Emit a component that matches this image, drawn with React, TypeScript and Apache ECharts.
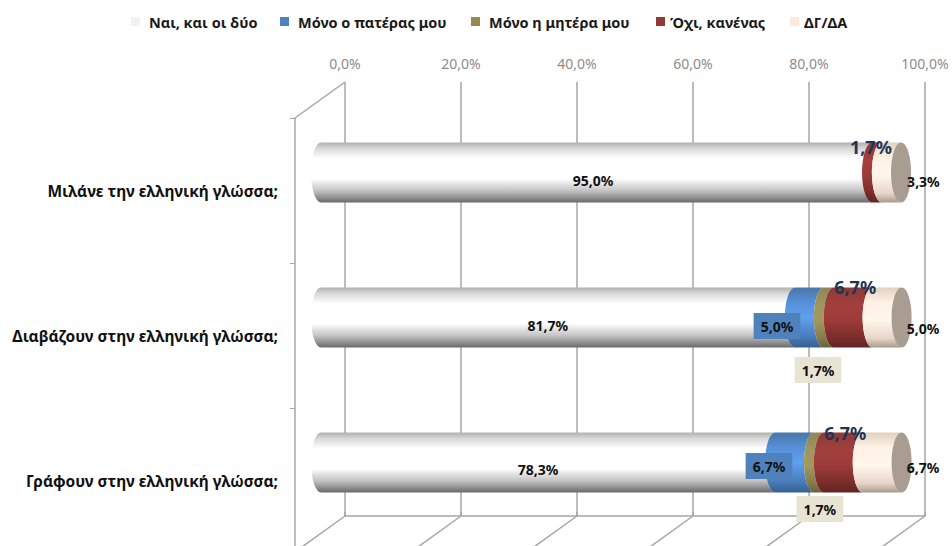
import React, { useEffect, useRef } from "react";
import * as echarts from "echarts";

const categories = ["Μιλάνε την ελληνική γλώσσα;", "Διαβάζουν στην ελληνική γλώσσα;", "Γράφουν στην ελληνική γλώσσα;"];
const seriesNames = ["Ναι, και οι δύο", "Μόνο ο πατέρας μου", "Μόνο η μητέρα μου", "Όχι, κανένας", "ΔΓ/ΔΑ"];
const yesBoth = [95.0, 81.7, 78.3];
const fatherOnly = [0, 5.0, 6.7];
const motherOnly = [0, 1.7, 1.7];
const neither = [1.7, 6.7, 6.7];
const noAnswer = [3.3, 5.0, 6.7];
const axisTicks = [0, 20, 40, 60, 80, 100];

const allValues = [yesBoth, fatherOnly, motherOnly, neither, noAnswer];

// styling and layout, separate from the data
const FONT = "'Noto Sans', sans-serif";
const legendLefts = [131, 280, 471, 656, 790];
const legendTextGap = [4, 4, 4, 0, 0];
const swatch = ["#f2f2f2", "#4f81bd", "#948a54", "#953735", "#fde9d9"];
const gradients = [
  [[0, "#b0b0b0"], [0.1, "#d8d8d8"], [0.27, "#ffffff"], [0.6, "#ffffff"], [0.8, "#c4c4c4"], [1, "#6a6a6a"]],
  [[0, "#4a76a8"], [0.25, "#5590d8"], [0.5, "#5fa0ee"], [0.8, "#4a7fc0"], [1, "#37608f"]],
  [[0, "#8f8655"], [0.3, "#a09660"], [0.55, "#a39860"], [0.85, "#857b4a"], [1, "#68603a"]],
  [[0, "#8c3a38"], [0.3, "#a3403d"], [0.55, "#9c3b38"], [0.85, "#7a2c2a"], [1, "#5f2422"]],
  [[0, "#e0d0c2"], [0.25, "#fff1e3"], [0.55, "#fff6ec"], [0.85, "#e6d5c6"], [1, "#a89a8e"]],
];
// hand-placed labels in the reference: shift from the segment's centre, per series and row
const labelShift = [
  [[-3.5, 7.5], [-10, 7.5], [-10, 6.5]],
  [[0, 0], [-32.4, 8.5], [-25.6, 3.5]],
  [[0, 0], [-10.8, 52.5], [1, 46.5]],
  [[-6, -25.5], [2, -30.5], [2, -29.5]],
  [[32, 8.5], [36, 10.5], [41, 4.5]],
];
const labelBox = [null, "#4f81bd", "#e8e4d4", null, null];
const BAR_DX = 26;
const BAR_DY = -18;
const RX = 10;
const RY = 30;
const WALL = "#a6a6a6";

const fmt = (v: number) => v.toFixed(1).replace(".", ",") + "%";

function segmentData(si: number) {
  return allValues[si].map((v, row) => {
    let start = 0;
    for (let k = 0; k < si; k++) start += allValues[k][row];
    return [start, start + v, row];
  });
}

function makeRender(si: number) {
  return (params: any, api: any) => {
    const start = api.value(0);
    const end = api.value(1);
    const row = api.value(2);
    if (end - start <= 0) return { type: "group", children: [] };
    const a = api.coord([start, row]);
    const b = api.coord([end, row]);
    const x0 = a[0] + BAR_DX;
    const x1 = b[0] + BAR_DX;
    const cy = a[1] + BAR_DY;
    const top = cy - RY;
    const bot = cy + RY;
    const d = `M${x0} ${top}A${RX} ${RY} 0 0 0 ${x0} ${bot}L${x1} ${bot}A${RX} ${RY} 0 0 1 ${x1} ${top}Z`;
    const children: any[] = [
      {
        type: "path",
        shape: { pathData: d },
        style: {
          fill: new echarts.graphic.LinearGradient(
            0, 0, 0, 1,
            gradients[si].map(([offset, color]) => ({ offset: offset as number, color: color as string }))
          ),
        },
      },
    ];
    if (si === allValues.length - 1) {
      children.push({
        type: "ellipse",
        shape: { cx: x1, cy, rx: RX, ry: RY },
        style: { fill: "#a99c90" },
        z2: 5,
      });
    }
    const big = si === 3;
    const box = labelBox[si];
    const shift = labelShift[si][row];
    children.push({
      type: "text",
      x: (x0 + x1) / 2 + shift[0],
      y: cy + shift[1],
      z2: 100,
      style: {
        text: fmt(end - start),
        fill: big ? "#1f3557" : "#111111",
        font: big ? `bold 18px ${FONT}` : `bold 14px ${FONT}`,
        align: "center",
        verticalAlign: "middle",
        backgroundColor: box || undefined,
        padding: box ? [6, 7] : 0,
      },
    });
    return { type: "group", children };
  };
}

function renderWall(params: any, api: any) {
  const v = api.value(0);
  const p = api.coord([v, 0]);
  const children: any[] = [
    { type: "line", shape: { x1: p[0], y1: p[1], x2: p[0] - 50, y2: p[1] + 36 }, style: { stroke: WALL, lineWidth: 1.5 } },
  ];
  if (v === 0) {
    const q = api.coord([v, 1]);
    children.push({ type: "line", shape: { x1: q[0], y1: q[1], x2: q[0] - 50, y2: q[1] + 36 }, style: { stroke: WALL, lineWidth: 1.5 } });
  }
  return { type: "group", children };
}

export default function App() {
  const ref = useRef<HTMLDivElement>(null);
  useEffect(() => {
    const chart = echarts.init(ref.current!, null, { renderer: "svg" });
    chart.setOption({
      animation: false,
      backgroundColor: "#ffffff",
      legend: seriesNames.map((n, i) => ({
        data: [n],
        left: legendLefts[i],
        top: 14,
        padding: 0,
        icon: "rect",
        itemWidth: 9,
        itemHeight: 9,
        selectedMode: false,
        textStyle: { fontFamily: FONT, fontWeight: "bold", fontSize: 14.5, color: "#1a1a1a", padding: [0, 0, 0, legendTextGap[i]] },
      })),
      grid: [
        { left: 345, top: 82, width: 580, height: 434, outerBoundsMode: "none" },
        { left: 295, top: 118, width: 580, height: 435, outerBoundsMode: "none" },
      ],
      xAxis: [
        {
          gridIndex: 0,
          type: "value",
          position: "top",
          min: 0,
          max: 100,
          interval: 20,
          axisLine: { show: true, lineStyle: { color: WALL, width: 1.5 } },
          axisTick: { show: true, length: 4, lineStyle: { color: WALL, width: 1.5 } },
          splitLine: { show: true, lineStyle: { color: WALL, width: 1.5 } },
          axisLabel: { margin: 12, formatter: (v: number) => fmt(v), fontFamily: FONT, fontSize: 14, color: "#8c8c8c", hideOverlap: false },
        },
        { gridIndex: 1, type: "value", min: 0, max: 100, show: false },
      ],
      yAxis: [
        { gridIndex: 0, type: "value", min: 0, max: 1, show: false },
        {
          gridIndex: 1,
          type: "category",
          inverse: true,
          data: categories,
          axisLine: { show: true, lineStyle: { color: WALL, width: 1.5 } },
          axisTick: { show: true, length: 5, lineStyle: { color: WALL, width: 1 } },
          axisLabel: { margin: 17, fontFamily: FONT, fontWeight: "bold", fontSize: 15.5, color: "#111111" },
        },
      ],
      series: [
        {
          type: "custom",
          name: "wall",
          xAxisIndex: 0,
          yAxisIndex: 0,
          silent: true,
          z: 1,
          data: axisTicks.map((t) => [t]),
          encode: { x: 0 },
          renderItem: renderWall,
        },
        ...seriesNames.map((name, si) => ({
          type: "custom",
          name,
          xAxisIndex: 1,
          yAxisIndex: 1,
          z: 3,
          itemStyle: { color: swatch[si] },
          data: segmentData(si),
          encode: { x: [0, 1], y: 2 },
          renderItem: makeRender(si),
        })),
      ],
    });
    return () => chart.dispose();
  }, []);
  return <div ref={ref} style={{ position: "fixed", left: 0, top: 0, width: 952, height: 546 }} />;
}
